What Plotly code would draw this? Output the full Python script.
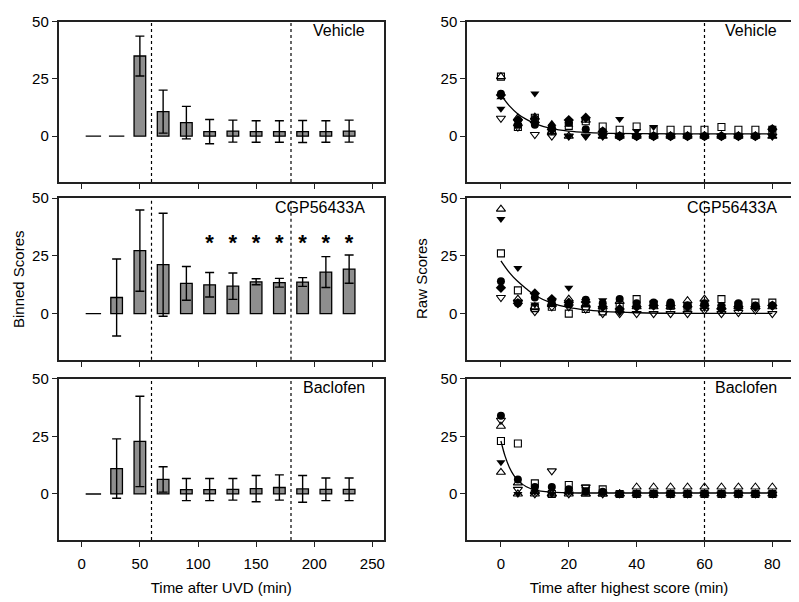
import plotly.graph_objects as go
from plotly.subplots import make_subplots

# ---------------- data: binned scores (left column) ----------------
time_bins = [10, 30, 50, 70, 90, 110, 130, 150, 170, 190, 210, 230]
veh_mean = [0, 0, 35.0, 10.7, 5.9, 2.0, 2.2, 2.0, 2.0, 2.0, 2.0, 2.2]
veh_sd = [0, 0, 8.7, 9.4, 7.1, 5.3, 4.8, 4.7, 4.7, 4.8, 4.7, 4.8]
cgp_mean = [0, 7.0, 27.3, 21.2, 13.1, 12.5, 11.9, 13.8, 13.4, 13.7, 18.0, 19.3]
cgp_sd = [0, 16.7, 17.6, 22.3, 7.3, 5.3, 5.7, 1.3, 1.9, 1.9, 6.7, 6.1]
bac_mean = [0, 11.0, 22.8, 6.3, 1.9, 1.9, 2.0, 2.3, 2.8, 2.2, 2.0, 2.0]
bac_sd = [0, 12.9, 19.6, 5.5, 4.8, 4.8, 4.7, 5.7, 5.5, 5.8, 4.9, 4.9]
sig_times = [110, 130, 150, 170, 190, 210, 230]
sig_level = 30

# ---------------- data: raw scores (right column) ----------------
time_raw = [0, 5, 10, 15, 20, 25, 30, 35, 40, 45, 50, 55, 60, 65, 70, 75, 80]

veh_circle = [18.5, 5, 5, 4, 6, 3, 2, 0, 0, 0, 0, 0, 0, 0, 0, 0, 3]
veh_tri_down = [12, 6, 18.6, 2, 0, 0, 0, 7.5, 2.2, 4, 0, 0, 0, 0, 0, 0, 0]
veh_tri_up_open = [26, 8, 8.3, 2, 0, 7, 0, 0, 0, 0, 0, 0, 0, 0, 0, 0, 0]
veh_square_open = [26, 4, 8, 2, 4.5, 6.5, 4.2, 2.8, 4.2, 2.8, 2.8, 2.8, 2.8, 4.0, 2.8, 2.8, 2.8]
veh_tri_down_open = [7.8, 4, 0.7, 0, 0, 0, 0, 0, 0, 0, 0, 0, 0, 0, 0, 0, 0]
veh_diamond = [18, 7, 6, 3, 7, 8, 2, 0, 0, 0, 0, 0, 0, 0, 0, 0, 3]
veh_tri_up = [17, 6, 8, 5.4, 5, 8, 0, 0, 0, 0, 0, 0, 0, 0, 0, 0, 0]
veh_fit_t = [0, 2.5, 5, 7.5, 10, 15, 20, 25, 30, 40, 60, 80]
veh_fit_y = [18.0, 13.2, 9.7, 7.3, 5.5, 3.3, 2.2, 1.6, 1.3, 1.1, 1.0, 1.0]

cgp_circle = [14, 4.5, 7, 4.5, 4, 6, 4.5, 6.3, 4.5, 4.8, 4.8, 3.6, 4.5, 3.3, 4.5, 3.5, 3.5]
cgp_tri_down = [41, 19.8, 4, 5, 11.2, 5.5, 5.8, 0.5, 3, 4.5, 3.5, 3, 3, 3, 3, 3, 3]
cgp_tri_up_open = [45.3, 6.3, 3, 4, 6.3, 4, 3, 5.3, 3, 3, 3, 5.6, 6.3, 3, 3, 3, 3]
cgp_square_open = [26.1, 10.1, 2.4, 3, 0, 2, 1, 3, 6.3, 4, 3.5, 3, 3, 6.3, 3.5, 4.8, 4.8]
cgp_tri_down_open = [7, 5, 0.9, 3, 3, 2, 0, 0, 0, 0, 0, 0, 1.4, 0, 0.5, 1.5, 0]
cgp_diamond = [11.2, 4.5, 8.7, 6.3, 4.8, 5, 3, 2, 3, 3.5, 3.5, 3, 3.5, 2, 3, 3, 3.5]
cgp_fit_t = [0, 2.5, 5, 7.5, 10, 15, 20, 25, 30, 40, 60, 80]
cgp_fit_y = [22.9, 17.8, 13.9, 10.8, 8.0, 4.6, 2.7, 1.6, 1.0, 0.4, 0.1, 0.1]

bac_circle = [34, 6.3, 3, 3, 2, 1, 1, 0, 0, 0, 0, 0, 0, 0, 0, 0, 0]
bac_tri_down_open = [32, 2, 0, 10, 0, 3, 0, 0, 0, 0, 0, 0, 0, 0, 0, 0, 0]
bac_tri_up_open = [29.4, 4.8, 1, 0, 0.9, 0, 0, 0, 3, 3, 3, 3, 3, 3, 3, 3, 3]
bac_square_open = [23, 21.9, 4.6, 0, 3.9, 2.3, 2, 0, 0, 0, 0, 0, 0, 0, 0, 0, 0]
bac_tri_down = [13.8, 0, 1, 0, 1, 2, 1, 0, 0, 0, 0, 0, 0, 0, 0, 0, 0]
bac_tri_up_open2 = [9.4, 0, 0, 0, 0, 0, 0, 0, 0, 0, 0, 0, 0, 0, 0, 0, 0]
bac_fit_t = [0, 1.25, 2.5, 3.75, 5, 7.5, 10, 15, 20, 30, 80]
bac_fit_y = [23.0, 16.3, 11.5, 8.2, 5.9, 3.1, 1.7, 0.8, 0.5, 0.4, 0.4]

panel_names = ["Vehicle", "CGP56433A", "Baclofen"]
left_ticks = [0, 50, 100, 150, 200, 250]
right_ticks = [0, 20, 40, 60, 80]
y_ticks = [0, 25, 50]
left_vlines = [60, 180]
right_vlines = [60]

FONT = "Liberation Sans, Arial, sans-serif"
fig = make_subplots(rows=3, cols=2)

binned = [(veh_mean, veh_sd), (cgp_mean, cgp_sd), (bac_mean, bac_sd)]
for r, (m, s) in enumerate(binned, start=1):
    ym = [v if v != 0 else None for v in m]
    ys = [e if v != 0 else 0 for v, e in zip(m, s)]
    fig.add_trace(go.Bar(x=time_bins, y=ym, width=10,
                         marker=dict(color="#8e8e8e", line=dict(color="black", width=1.3)),
                         error_y=dict(type="data", array=ys, color="black", thickness=1.4, width=4.5),
                         showlegend=False), row=r, col=1)
    zx = [t for t, v in zip(time_bins, m) if v == 0]
    zy = [v for v in m if v == 0]
    fig.add_trace(go.Scatter(x=zx, y=zy, mode="markers",
                             marker=dict(symbol="line-ew-open", size=11, color="black",
                                         line=dict(color="black", width=1.4)),
                             showlegend=False), row=r, col=1)

fig.add_trace(go.Scatter(x=sig_times, y=[sig_level] * len(sig_times), mode="text",
                         text=["<b>*</b>"] * len(sig_times),
                         textfont=dict(family=FONT, size=22, color="black"),
                         textposition="middle center", showlegend=False), row=2, col=1)

sym = {
    "circle": ("circle", False),
    "tri_down": ("triangle-down", False),
    "tri_up": ("triangle-up", False),
    "diamond": ("diamond", False),
    "tri_up_open": ("triangle-up-open", True),
    "tri_down_open": ("triangle-down-open", True),
    "square_open": ("square-open", True),
}
raw_sets = [
    ([(veh_circle, "circle"), (veh_tri_down, "tri_down"), (veh_tri_up_open, "tri_up_open"),
      (veh_square_open, "square_open"), (veh_tri_down_open, "tri_down_open"),
      (veh_diamond, "diamond"), (veh_tri_up, "tri_up")], veh_fit_t, veh_fit_y),
    ([(cgp_circle, "circle"), (cgp_tri_down, "tri_down"), (cgp_tri_up_open, "tri_up_open"),
      (cgp_square_open, "square_open"), (cgp_tri_down_open, "tri_down_open"),
      (cgp_diamond, "diamond")], cgp_fit_t, cgp_fit_y),
    ([(bac_circle, "circle"), (bac_tri_down_open, "tri_down_open"), (bac_tri_up_open, "tri_up_open"),
      (bac_square_open, "square_open"), (bac_tri_down, "tri_down"),
      (bac_tri_up_open2, "tri_up_open")], bac_fit_t, bac_fit_y),
]
for r, (series, ft, fy) in enumerate(raw_sets, start=1):
    fig.add_trace(go.Scatter(x=ft, y=fy, mode="lines", line=dict(color="black", width=1.3, shape="spline"),
                             showlegend=False), row=r, col=2)
    for vals, key in series:
        s, is_open = sym[key]
        fig.add_trace(go.Scatter(x=time_raw, y=vals, mode="markers",
                                 marker=dict(symbol=s, size=7 if "square" in s else 8, color="black",
                                             line=dict(color="black", width=1.1 if is_open else 0)),
                                 showlegend=False), row=r, col=2)

# layout geometry: reference pixel positions, shifted for the 8px page margin
OFF = 8
FW, FH = 799 - OFF, 602 - OFF
T, B, L, R = 12 - OFF, 540 - OFF, 58 - OFF, 791 - OFF
H, W = B - T, R - L
def ydom(top, bot):
    return [(B - (bot - OFF)) / H, (B - (top - OFF)) / H]
def xdom(lft, rgt):
    return [(lft - OFF - L) / W, (rgt - OFF - L) / W]
rows_px = [(12.7, 175.7), (192.3, 356.7), (376, 540)]
cols_px = [(58.5, 384), (467, 791)]

axis_common = dict(showline=True, linecolor="#222", linewidth=1.5, mirror=True, ticks="outside",
                   ticklen=5, tickwidth=1.3, tickcolor="#222", showgrid=False, zeroline=False,
                   tickfont=dict(family=FONT, size=15, color="black"))
shapes = []
annotations = []
for r in range(3):
    for c in range(2):
        idx = r * 2 + c + 1
        xa = "xaxis" if idx == 1 else f"xaxis{idx}"
        ya = "yaxis" if idx == 1 else f"yaxis{idx}"
        xr = [-20, 260] if c == 0 else [-10, 85.5]
        fig.layout[xa].update(domain=[max(0, d) for d in xdom(*cols_px[c])], range=xr,
                              tickvals=left_ticks if c == 0 else right_ticks,
                              showticklabels=(r == 2), ticklabelstandoff=4, **axis_common)
        fig.layout[ya].update(domain=[min(1, max(0, d)) for d in ydom(*rows_px[r])], range=[-20, 50],
                              tickvals=y_ticks, **axis_common)
        xref = "x" if idx == 1 else f"x{idx}"
        yref = "y" if idx == 1 else f"y{idx}"
        for v in (left_vlines if c == 0 else right_vlines):
            shapes.append(dict(type="line", xref=xref, yref=f"{yref} domain", x0=v, x1=v, y0=0, y1=1,
                               line=dict(color="black", width=1.2, dash="dot")))
        pw = cols_px[c][1] - cols_px[c][0]
        inset = 17 if c == 0 else 12
        annotations.append(dict(text=panel_names[r], xref=f"{xref} domain", yref=f"{yref} domain",
                                x=1 - inset / pw, y=1 - 9 / 164, xanchor="right", yanchor="middle",
                                showarrow=False, font=dict(family=FONT, size=16, color="black")))

fig.layout.xaxis5.title = dict(text="Time after UVD (min)", font=dict(family=FONT, size=15, color="black"), standoff=12)
fig.layout.xaxis6.title = dict(text="Time after highest score (min)", font=dict(family=FONT, size=15, color="black"), standoff=12)
mid = ydom(*rows_px[1])
annotations.append(dict(text="Binned Scores", textangle=-90, xref="paper", yref="paper",
                        x=(18 - OFF - L) / W, y=(mid[0] + mid[1]) / 2,
                        xanchor="center", yanchor="middle", showarrow=False,
                        font=dict(family=FONT, size=15, color="black")))
annotations.append(dict(text="Raw Scores", textangle=-90, xref="paper", yref="paper",
                        x=(421 - OFF - L) / W, y=(mid[0] + mid[1]) / 2,
                        xanchor="center", yanchor="middle", showarrow=False,
                        font=dict(family=FONT, size=15, color="black")))

fig.update_layout(width=FW, height=FH, margin=dict(l=L, r=FW - R, t=T, b=FH - B),
                  paper_bgcolor="white", plot_bgcolor="white", shapes=shapes, annotations=annotations,
                  barmode="overlay", font=dict(family=FONT, color="black"))
fig.write_html("out.html")
